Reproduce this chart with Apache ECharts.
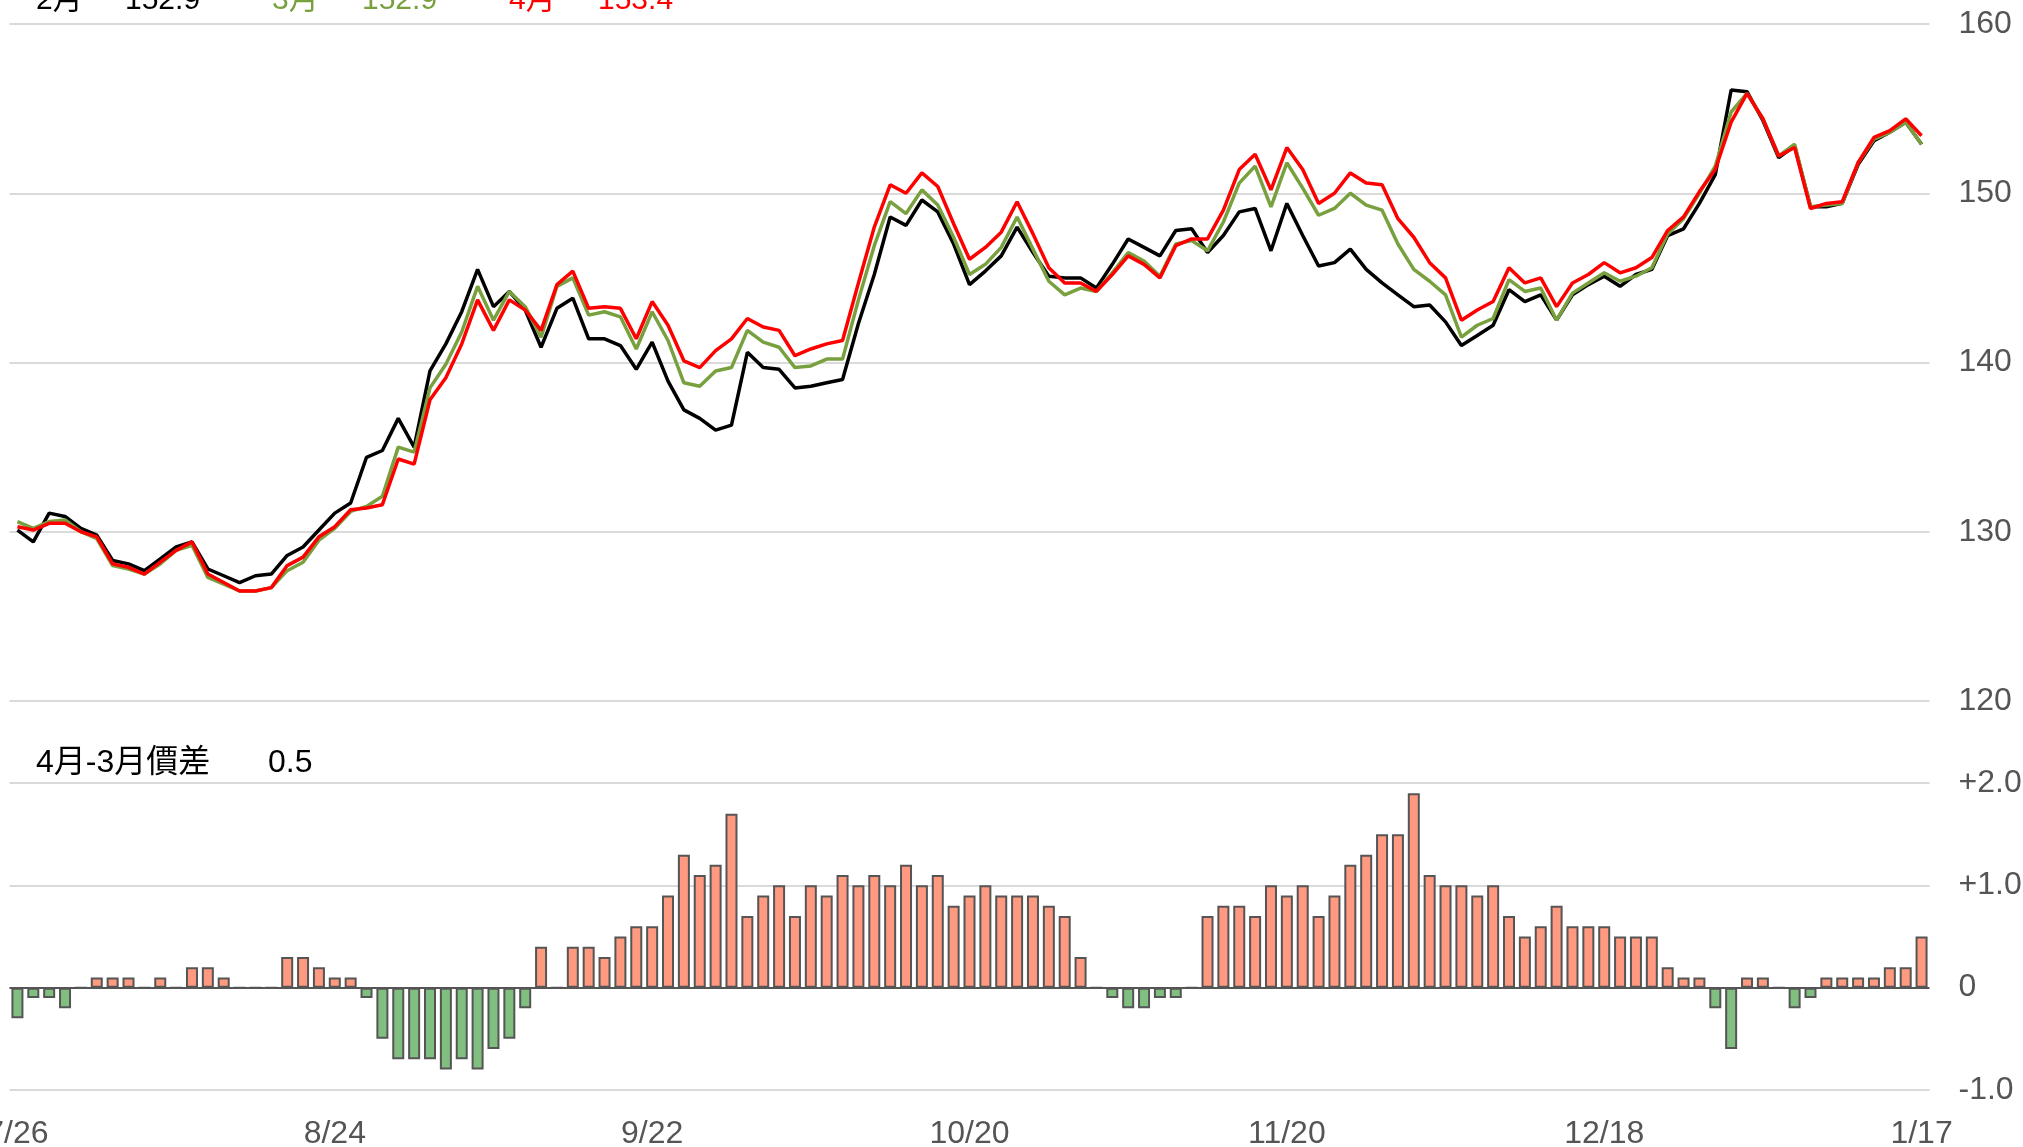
<!DOCTYPE html>
<html>
<head>
<meta charset="utf-8">
<script src="https://cdn.jsdelivr.net/npm/echarts@6/dist/echarts.min.js"></script>
<style>
  html, body { margin: 0; padding: 0; background: #fff; }
  #chart { width: 2023px; height: 1147px; }
</style>
</head>
<body>
<div id="chart"></div>
<script>
// x軸の日付（20営業日ごと）
const tickLabels = ['7/26', '8/24', '9/22', '10/20', '11/20', '12/18', '1/17']

// 2月
const feb = [
  130.1, 129.4, 131.1, 130.9, 130.2, 129.8, 128.3, 128.1, 127.7, 128.4,
  129.1, 129.4, 127.8, 127.4, 127.0, 127.4, 127.5, 128.6, 129.1, 130.1,
  131.1, 131.7, 134.4, 134.8, 136.7, 135.0, 139.5, 141.1, 143.0, 145.5,
  143.3, 144.2, 143.1, 140.9, 143.2, 143.8, 141.4, 141.4, 141.0, 139.6,
  141.2, 138.9, 137.2, 136.7, 136.0, 136.3, 140.6, 139.7, 139.6, 138.5,
  138.6, 138.8, 139.0, 142.3, 145.2, 148.6, 148.1, 149.6, 148.9, 147.0,
  144.6, 145.4, 146.3, 148.0, 146.5, 145.1, 145.0, 145.0, 144.4, 145.8,
  147.3, 146.8, 146.3, 147.8, 147.9, 146.5, 147.5, 148.9, 149.1, 146.6,
  149.4, 147.5, 145.7, 145.9, 146.7, 145.5, 144.7, 144.0, 143.3, 143.4,
  142.4, 141.0, 141.6, 142.2, 144.3, 143.6, 144.0, 142.5, 144.0, 144.6,
  145.1, 144.5, 145.2, 145.5, 147.5, 147.9, 149.4, 151.1, 156.1, 156.0,
  154.3, 152.1, 152.8, 149.2, 149.2, 149.4, 151.7, 153.1, 153.6, 154.2,
  152.9
]
// 3月
const mar = [
  130.6, 130.2, 130.6, 130.7, 130.0, 129.6, 128.0, 127.8, 127.5, 128.1,
  128.9, 129.2, 127.3, 126.9, 126.5, 126.5, 126.7, 127.7, 128.2, 129.5,
  130.2, 131.2, 131.5, 132.1, 135.0, 134.7, 138.5, 139.9, 141.8, 144.5,
  142.5, 144.2, 143.3, 141.5, 144.5, 145.0, 142.8, 143.0, 142.7, 140.8,
  143.0, 141.3, 138.8, 138.6, 139.5, 139.7, 141.9, 141.2, 140.9, 139.7,
  139.8, 140.2, 140.2, 143.7, 146.9, 149.5, 148.8, 150.2, 149.3, 147.4,
  145.2, 145.8, 146.8, 148.6, 146.7, 144.8, 144.0, 144.4, 144.2, 145.3,
  146.5, 146.0, 145.1, 147.0, 147.2, 146.6, 148.3, 150.6, 151.6, 149.2,
  151.8, 150.3, 148.7, 149.1, 150.0, 149.3, 149.0, 147.0, 145.5, 144.8,
  144.0, 141.5, 142.2, 142.6, 144.9, 144.2, 144.4, 142.5, 144.1, 144.7,
  145.3, 144.8, 145.1, 145.6, 147.6, 148.5, 150.0, 151.6, 154.8, 155.9,
  154.4, 152.2, 152.9, 149.2, 149.3, 149.4, 151.8, 153.2, 153.6, 154.2,
  152.9
]
// 4月
const apr = [
  130.3, 130.1, 130.5, 130.5, 130.0, 129.7, 128.1, 127.9, 127.5, 128.2,
  128.9, 129.4, 127.5, 127.0, 126.5, 126.5, 126.7, 128.0, 128.5, 129.7,
  130.3, 131.3, 131.4, 131.6, 134.3, 134.0, 137.8, 139.1, 141.1, 143.7,
  141.9, 143.7, 143.1, 141.9, 144.6, 145.4, 143.2, 143.3, 143.2, 141.4,
  143.6, 142.2, 140.1, 139.7, 140.7, 141.4, 142.6, 142.1, 141.9, 140.4,
  140.8, 141.1, 141.3, 144.7, 148.0, 150.5, 150.0, 151.2, 150.4, 148.2,
  146.1, 146.8, 147.7, 149.5, 147.6, 145.6, 144.7, 144.7, 144.2, 145.2,
  146.3, 145.8, 145.0, 146.9, 147.3, 147.3, 149.0, 151.4, 152.3, 150.2,
  152.7, 151.4, 149.4, 150.0, 151.2, 150.6, 150.5, 148.5, 147.4, 145.9,
  145.0, 142.5, 143.1, 143.6, 145.6, 144.7, 145.0, 143.3, 144.7, 145.2,
  145.9, 145.3, 145.6, 146.2, 147.8, 148.6, 150.1, 151.4, 154.2, 155.9,
  154.4, 152.2, 152.7, 149.1, 149.4, 149.5, 151.8, 153.3, 153.7, 154.4,
  153.4
]
// 4月-3月價差
const spread = [
  -0.3, -0.1, -0.1, -0.2, 0, 0.1, 0.1, 0.1, 0, 0.1,
  0, 0.2, 0.2, 0.1, 0, 0, 0, 0.3, 0.3, 0.2,
  0.1, 0.1, -0.1, -0.5, -0.7, -0.7, -0.7, -0.8, -0.7, -0.8,
  -0.6, -0.5, -0.2, 0.4, 0, 0.4, 0.4, 0.3, 0.5, 0.6,
  0.6, 0.9, 1.3, 1.1, 1.2, 1.7, 0.7, 0.9, 1.0, 0.7,
  1.0, 0.9, 1.1, 1.0, 1.1, 1.0, 1.2, 1.0, 1.1, 0.8,
  0.9, 1.0, 0.9, 0.9, 0.9, 0.8, 0.7, 0.3, 0, -0.1,
  -0.2, -0.2, -0.1, -0.1, 0, 0.7, 0.8, 0.8, 0.7, 1.0,
  0.9, 1.0, 0.7, 0.9, 1.2, 1.3, 1.5, 1.5, 1.9, 1.1,
  1.0, 1.0, 0.9, 1.0, 0.7, 0.5, 0.6, 0.8, 0.6, 0.6,
  0.6, 0.5, 0.5, 0.5, 0.2, 0.1, 0.1, -0.2, -0.6, 0.1,
  0.1, 0, -0.2, -0.1, 0.1, 0.1, 0.1, 0.1, 0.2, 0.2,
  0.5
]
const spreadTicks = ['-1.0', '0', '+1.0', '+2.0']

const days = feb.map((_, i) => String(i))
const last = feb.length - 1

const FONT = '"Liberation Sans", Arial, "Noto Sans CJK TC", sans-serif'
const GREEN = '#78a03e'
const RED = '#ff0000'
const GRID_LINE = { show: true, lineStyle: { color: '#dadada', width: 2 } }

const chart = echarts.init(document.getElementById('chart'))

const legendText = (x, text, color) => ({
  type: 'text', left: x, top: -14,
  style: { text, fill: color, font: '30px ' + FONT }
})

const option = {
  animation: false,
  backgroundColor: '#fff',
  textStyle: { fontFamily: FONT },
  graphic: [
    legendText(36, '2月', '#000'),
    legendText(125, feb[last].toFixed(1), '#000'),
    legendText(272, '3月', GREEN),
    legendText(362, mar[last].toFixed(1), GREEN),
    legendText(509, '4月', RED),
    legendText(598, apr[last].toFixed(1), RED),
    { type: 'text', left: 36, top: 747, style: { text: '4月-3月價差', fill: '#000', font: '32px ' + FONT } },
    { type: 'text', left: 268, top: 747, style: { text: spread[last].toFixed(1), fill: '#000', font: '32px ' + FONT } }
  ],
  grid: [
    { left: 9.5, right: 93.5, top: 24, height: 677, outerBoundsMode: 'none' },
    { left: 9.5, right: 93.5, top: 783, height: 307, outerBoundsMode: 'none' }
  ],
  xAxis: [
    {
      type: 'category', gridIndex: 0, data: days, boundaryGap: true,
      axisLine: { show: false }, axisTick: { show: false }, axisLabel: { show: false }
    },
    {
      type: 'category', gridIndex: 1, data: days, boundaryGap: true,
      axisLine: { show: false }, axisTick: { show: false },
      axisLabel: {
        interval: 19, margin: 28, color: '#555', fontSize: 32, fontFamily: FONT,
        formatter: (v, i) => tickLabels[Math.round(i / 20)]
      }
    }
  ],
  yAxis: [
    {
      type: 'value', gridIndex: 0, position: 'right', min: 120, max: 160, interval: 10,
      axisLine: { show: false }, axisTick: { show: false },
      axisLabel: { margin: 29, color: '#555', fontSize: 32, fontFamily: FONT },
      splitLine: GRID_LINE
    },
    {
      type: 'value', gridIndex: 1, position: 'right', min: -1, max: 2, interval: 1,
      axisLine: { show: false }, axisTick: { show: false },
      axisLabel: {
        margin: 29, color: '#555', fontSize: 32, fontFamily: FONT,
        formatter: (v, i) => spreadTicks[i]
      },
      splitLine: GRID_LINE
    }
  ],
  series: [
    {
      name: '2月', type: 'line', xAxisIndex: 0, yAxisIndex: 0, data: feb,
      symbol: 'none', lineStyle: { color: '#000', width: 3.5 }, itemStyle: { color: '#000' }
    },
    {
      name: '3月', type: 'line', xAxisIndex: 0, yAxisIndex: 0, data: mar,
      symbol: 'none', lineStyle: { color: GREEN, width: 3.5 }, itemStyle: { color: GREEN }
    },
    {
      name: '4月', type: 'line', xAxisIndex: 0, yAxisIndex: 0, data: apr,
      symbol: 'none', lineStyle: { color: RED, width: 3.5 }, itemStyle: { color: RED }
    },
    {
      name: '4月-3月價差', type: 'bar', xAxisIndex: 1, yAxisIndex: 1, data: spread,
      barWidth: 12,
      itemStyle: {
        color: p => (p.value >= 0 ? '#ff9a80' : '#80bf80'),
        borderColor: '#555', borderWidth: 2
      },
      markLine: {
        silent: true, symbol: ['none', 'none'], label: { show: false },
        lineStyle: { color: '#555', width: 2, type: 'solid' },
        data: [{ yAxis: 0 }]
      }
    }
  ]
}

chart.setOption(option)
</script>
</body>
</html>
